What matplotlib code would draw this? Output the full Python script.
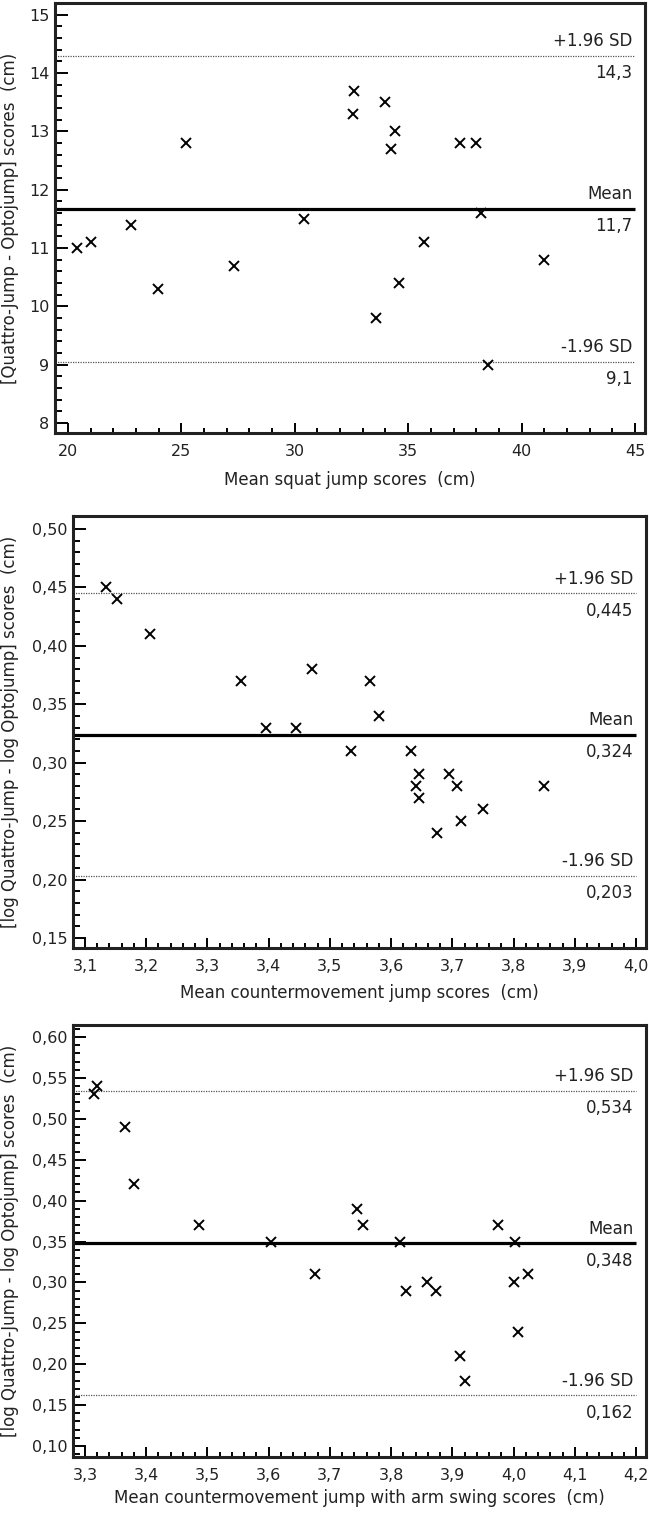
import matplotlib
matplotlib.use('Agg')
import matplotlib.pyplot as plt
from matplotlib.ticker import MultipleLocator, FuncFormatter

plt.rcParams['font.family'] = ['DejaVu Sans']

# Panel 1 - squat jump
sj_mean = [20.4, 21.0, 22.8, 23.95, 25.2, 27.3, 30.4, 32.55, 32.6, 33.6,
           34.0, 34.4, 34.25, 34.6, 35.7, 37.3, 38.0, 38.2, 38.5, 41.0]
sj_diff = [11.0, 11.1, 11.4, 10.3, 12.8, 10.7, 11.5, 13.3, 13.7, 9.8,
           13.5, 13.0, 12.7, 10.4, 11.1, 12.8, 12.8, 11.6, 9.0, 10.8]
sj_lines = [14.3, 11.67, 9.05]
sj_labels = ['14,3', '11,7', '9,1']

# Panel 2 - countermovement jump (log)
cmj_mean = [3.135, 3.152, 3.206, 3.355, 3.395, 3.445, 3.47, 3.535, 3.565, 3.58,
            3.633, 3.64, 3.645, 3.645, 3.675, 3.695, 3.708, 3.714, 3.75, 3.85]
cmj_diff = [0.45, 0.44, 0.41, 0.37, 0.33, 0.33, 0.38, 0.31, 0.37, 0.34,
            0.31, 0.28, 0.29, 0.27, 0.24, 0.29, 0.28, 0.25, 0.26, 0.28]
cmj_lines = [0.445, 0.324, 0.203]
cmj_labels = ['0,445', '0,324', '0,203']

# Panel 3 - countermovement jump with arm swing (log)
cmjas_mean = [3.315, 3.32, 3.365, 3.38, 3.486, 3.604, 3.675, 3.744, 3.754, 3.814,
              3.825, 3.859, 3.874, 3.913, 3.92, 3.974, 4.0, 4.003, 4.008, 4.023]
cmjas_diff = [0.53, 0.54, 0.49, 0.42, 0.37, 0.35, 0.31, 0.39, 0.37, 0.35,
              0.29, 0.30, 0.29, 0.21, 0.18, 0.37, 0.30, 0.35, 0.24, 0.31]
cmjas_lines = [0.534, 0.348, 0.162]
cmjas_labels = ['0,534', '0,348', '0,162']

W, H = 649, 1513
fig = plt.figure(figsize=(W / 100, H / 100), dpi=100)


def comma(nd):
    return FuncFormatter(lambda v, p: ('%.*f' % (nd, v)).replace('.', ','))


def panel(box, x, y, lines, labels, xlim, ylim, xmaj, xmin, ymaj, ymin,
          xdec, ydec, xend, xlab, ylab, xlab_px):
    l, t, r, b = box
    ax = fig.add_axes([l / W, 1 - b / H, (r - l) / W, (b - t) / H])
    ax.plot(x, y, 'x', color='black', ms=6.5, mew=1.4, zorder=3)
    up, mean, lo = lines
    ax.hlines([up, lo], xlim[0], xend, colors='#555555', lw=0.9,
              linestyles=(0, (1, 1)), zorder=2)
    ax.hlines(mean, xlim[0], xend, colors='black', lw=2.3, zorder=2)
    for yv, top, bottom in [(up, '+1.96 SD', labels[0]), (mean, 'Mean', labels[1]),
                            (lo, '-1.96 SD', labels[2])]:
        ax.annotate(top, (xend, yv), xytext=(-2, 4), textcoords='offset points',
                    ha='right', va='bottom', fontsize=12, color='#222222')
        ax.annotate(bottom, (xend, yv), xytext=(-2, -6), textcoords='offset points',
                    ha='right', va='top', fontsize=12, color='#222222')
    ax.set_xlim(xlim)
    ax.set_ylim(ylim)
    ax.xaxis.set_major_locator(MultipleLocator(xmaj))
    ax.xaxis.set_minor_locator(MultipleLocator(xmin))
    ax.yaxis.set_major_locator(MultipleLocator(ymaj))
    ax.yaxis.set_minor_locator(MultipleLocator(ymin))
    ax.xaxis.set_major_formatter(comma(xdec))
    ax.yaxis.set_major_formatter(comma(ydec))
    ax.tick_params(axis='x', which='major', direction='in', length=7.5, width=1.4,
                   pad=8, labelsize=11.5, labelcolor='#222222')
    ax.tick_params(axis='x', which='minor', direction='in', length=3.8, width=1.4)
    ax.tick_params(axis='y', which='major', direction='in', length=9, width=1.4,
                   pad=4, labelsize=11.5, labelcolor='#222222')
    ax.tick_params(axis='y', which='minor', direction='in', length=5, width=1.4)
    for s in ax.spines.values():
        s.set_linewidth(2.2)
        s.set_color('#222222')
    ax.set_xlabel(xlab, fontsize=12, color='#222222')
    ax.xaxis.label.set_va('center')
    ax.xaxis.set_label_coords(0.5, -xlab_px / (b - t))
    ax.set_ylabel(ylab, fontsize=12, color='#222222')
    ax.yaxis.label.set_va('center')
    ax.yaxis.set_label_coords((10 - l) / (r - l), 0.5)
    return ax


panel((55, 3, 645, 433), sj_mean, sj_diff, sj_lines, sj_labels,
      (19.43, 45.44), (7.83, 15.2), 5, 1, 1, 0.2, 0, 0, 45,
      'Mean squat jump scores  (cm)',
      '[Quattro-Jump - Optojump] scores  (cm)', 47)

panel((73, 516, 646, 948), cmj_mean, cmj_diff, cmj_lines, cmj_labels,
      (3.0804, 4.0163), (0.1414, 0.5111), 0.1, 0.02, 0.05, 0.01, 1, 2, 4.0,
      'Mean countermovement jump scores  (cm)',
      '[log Quattro-Jump - log Optojump] scores  (cm)', 45)

panel((73, 1025, 646, 1457), cmjas_mean, cmjas_diff, cmjas_lines, cmjas_labels,
      (3.2804, 4.2163), (0.0866, 0.6147), 0.1, 0.02, 0.05, 0.01, 1, 2, 4.2,
      'Mean countermovement jump with arm swing scores  (cm)',
      '[log Quattro-Jump - log Optojump] scores  (cm)', 41)

fig.savefig('out.png', dpi=100)
